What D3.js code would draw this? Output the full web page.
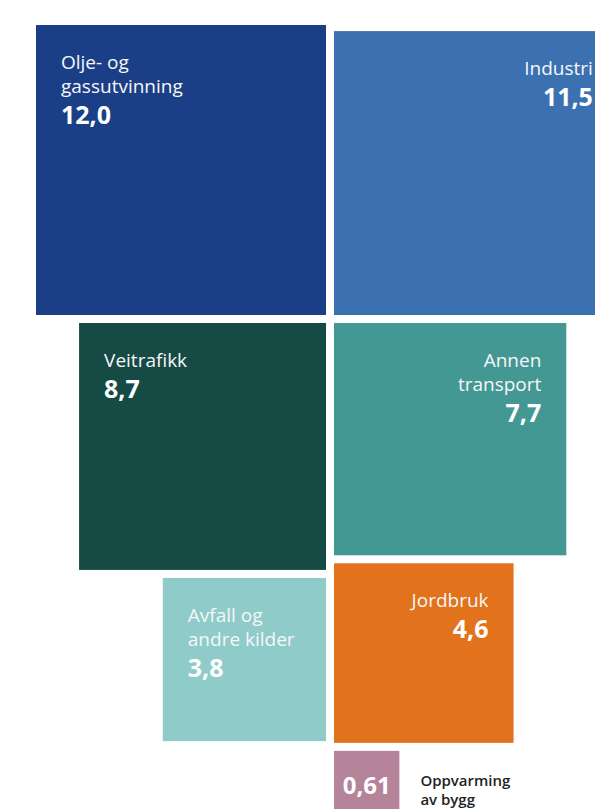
<!DOCTYPE html>
<html>
<head>
<meta charset="utf-8">
<script src="https://cdn.jsdelivr.net/npm/d3@7"></script>
<style>
  html, body { margin: 0; padding: 0; background: #ffffff; overflow: hidden; }
  svg { display: block; }
</style>
</head>
<body>
<svg id="drawing_region"></svg>
<script>
// Utslipp per kilde (mill. tonn CO2-ekvivalenter)
const categories = ["Olje- og gassutvinning", "Industri", "Veitrafikk", "Annen transport",
                    "Avfall og andre kilder", "Jordbruk", "Oppvarming av bygg"];
const labelLines = [["Olje- og", "gassutvinning"], ["Industri"], ["Veitrafikk"], ["Annen", "transport"],
                    ["Avfall og", "andre kilder"], ["Jordbruk"], ["Oppvarming", "av bygg"]];
const values = [12.0, 11.5, 8.7, 7.7, 3.8, 4.6, 0.61];
const columns = ["left", "right", "left", "right", "left", "right", "right"];
const colors = ["#1b3f86", "#3b71b1", "#154a45", "#449893", "#8fcbc8", "#e2721c", "#b5849a"];

const config = {
    width: 595,
    height: 809,
    split: 330,      // midpoint between the two columns
    gap: 8,
    baseline: 315,   // bottom of the first row
    pad: 25
};

const svg = d3.select('#drawing_region')
    .attr('width', config.width)
    .attr('height', config.height);

// side of each square ~ sqrt(value)
const side = d3.scaleSqrt()
    .domain([0, 12])
    .range([0, 290]);

const fmt = v => (v < 1 ? d3.format(".2f")(v) : d3.format(".1f")(v)).replace(".", ",");

// stack squares in two columns: first one sits above the baseline, the rest hang below
const data = categories.map((c, i) => ({
    name: c, lines: labelLines[i], value: values[i], col: columns[i], color: colors[i]
}));
const cursor = { left: null, right: null };
data.forEach(d => {
    d.s = side(d.value);
    if (cursor[d.col] === null) {
        d.y = config.baseline - d.s;
    } else {
        d.y = cursor[d.col] + config.gap;
    }
    cursor[d.col] = d.y + d.s;
    d.x = d.col === "left" ? config.split - config.gap / 2 - d.s : config.split + config.gap / 2;
});

const g = svg.selectAll('g.item')
    .data(data)
    .join('g')
    .attr('class', 'item');

g.append('rect')
    .attr('x', d => d.x)
    .attr('y', d => d.y)
    .attr('width', d => d.s)
    .attr('height', d => d.s)
    .attr('fill', d => d.color);

const font = '"Open Sans", "Noto Sans", sans-serif';

// labels inside the bigger squares
const big = g.filter(d => d.value >= 1);

big.each(function(d) {
    const el = d3.select(this);
    const left = d.col === "left";
    const tx = left ? d.x + config.pad : d.x + d.s - config.pad;
    const anchor = left ? "start" : "end";
    const y0 = d.y + 44;
    d.lines.forEach((line, j) => {
        el.append('text')
            .attr('x', tx)
            .attr('y', y0 + j * 24)
            .attr('text-anchor', anchor)
            .attr('fill', '#f6f7f9')
            .style('font-family', font)
            .style('font-size', '19px')
            .text(line);
    });
    el.append('text')
        .attr('x', tx)
        .attr('y', y0 + (d.lines.length - 1) * 24 + 31)
        .attr('text-anchor', anchor)
        .attr('fill', '#ffffff')
        .style('font-family', font)
        .style('font-size', '25px')
        .style('font-weight', 700)
        .text(fmt(d.value));
});

// small square: value inside, label beside
const small = g.filter(d => d.value < 1);

small.each(function(d) {
    const el = d3.select(this);
    el.append('text')
        .attr('x', d.x + d.s / 2)
        .attr('y', d.y + 43)
        .attr('text-anchor', 'middle')
        .attr('fill', '#ffffff')
        .style('font-family', font)
        .style('font-size', '24px')
        .style('font-weight', 700)
        .text(fmt(d.value));
    d.lines.forEach((line, j) => {
        el.append('text')
            .attr('x', d.x + d.s + 21)
            .attr('y', d.y + 35 + j * 19)
            .attr('fill', '#222222')
            .style('font-family', font)
            .style('font-size', '15px')
            .style('font-weight', 600)
            .text(line);
    });
});
</script>
</body>
</html>
